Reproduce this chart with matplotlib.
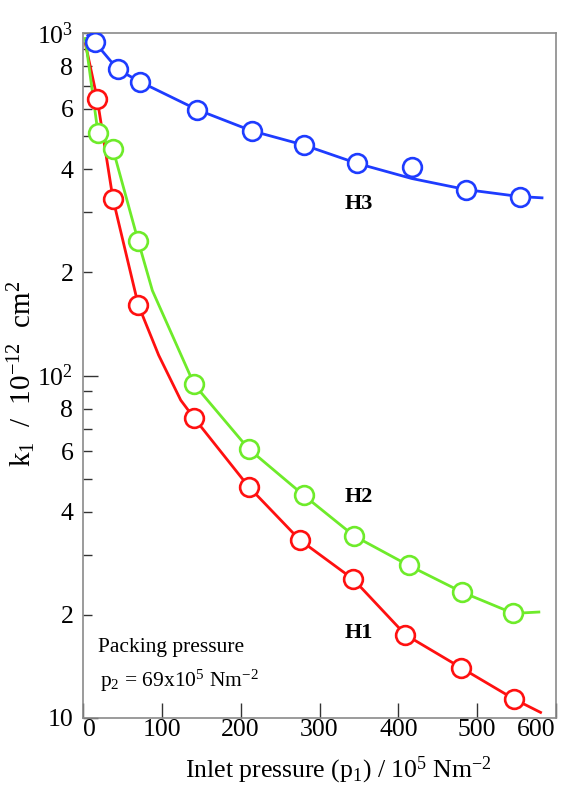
import matplotlib
matplotlib.use("Agg")
import matplotlib.pyplot as plt
from matplotlib.ticker import FixedLocator, FixedFormatter

plt.rcParams["font.family"] = ["Liberation Serif", "DejaVu Serif"]
plt.rcParams["mathtext.fontset"] = "custom"
plt.rcParams["mathtext.rm"] = "Liberation Serif"
plt.rcParams["mathtext.it"] = "Liberation Serif:italic"
plt.rcParams["mathtext.bf"] = "Liberation Serif:bold"
plt.rcParams["mathtext.default"] = "regular"

# Measured permeability vs inlet pressure for three packings
h1_x = [18, 38, 70, 141, 210, 275, 343, 409, 480, 547]
h1_k = [643, 328, 161, 75.1, 47.4, 33.1, 25.4, 17.5, 14.0, 11.35]

h2_x = [19, 38, 70, 141, 210, 280, 344, 413, 481, 546]
h2_k = [510, 458, 247, 94.2, 61.1, 44.7, 34.0, 27.9, 23.3, 20.2]

h3_x = [15, 44, 72, 145, 214, 280, 348, 417, 486, 554]
h3_k = [940, 783, 721, 597, 518, 471, 416, 405, 349, 333]

# Hand-drawn trend curves through the measurements
h1_curve_x = [2.6, 18, 38, 70, 96, 124, 141, 210, 275, 343, 409, 480, 547, 582]
h1_curve_k = [940, 643, 328, 161, 114.6, 84.7, 75.1, 47.4, 33.1, 25.4, 17.5, 14.0, 11.35, 10.34]

h2_curve_x = [2.6, 19, 38, 70, 88, 141, 210, 280, 344, 413, 481, 546, 580]
h2_curve_k = [973, 510, 458, 247, 177, 94.2, 61.1, 44.7, 34.0, 27.9, 23.3, 20.2, 20.4]

h3_curve_x = [5, 15, 44, 72, 145, 214, 280, 348, 417, 486, 554, 584]
h3_curve_k = [990, 940, 783, 721, 597, 518, 471, 416, 376, 349, 333, 330]

x_ticks = [0, 100, 200, 300, 400, 500, 600]
y_major = [10, 100, 1000]
y_major_labels = ["10", "$10^2$", "$10^3$"]
y_minor = [20, 30, 40, 50, 60, 70, 80, 90, 200, 300, 400, 500, 600, 700, 800, 900]
y_minor_labels = ["2", "", "4", "", "6", "", "8", "", "2", "", "4", "", "6", "", "8", ""]

RED = "#FF1010"
GREEN = "#6EEB2A"
BLUE = "#1E3CFF"

fig = plt.figure(figsize=(5.66, 7.93), dpi=100)
ax = fig.add_axes([83 / 566, 75 / 793, 473 / 566, 685 / 793])

for cx, ck, px, pk, col in [
    (h1_curve_x, h1_curve_k, h1_x, h1_k, RED),
    (h2_curve_x, h2_curve_k, h2_x, h2_k, GREEN),
    (h3_curve_x, h3_curve_k, h3_x, h3_k, BLUE),
]:
    ax.plot(cx, ck, color=col, lw=2.0, zorder=2, solid_capstyle="butt")
    ax.plot(px, pk, ls="none", marker="o", ms=13.5, mfc="white",
            mec=col, mew=1.9, zorder=3)

ax.set_yscale("log")
ax.set_xlim(0, 600)
ax.set_ylim(10, 1000)

ax.xaxis.set_major_locator(FixedLocator(x_ticks))
ax.xaxis.set_major_formatter(FixedFormatter([str(v) for v in x_ticks]))
ax.xaxis.set_minor_locator(FixedLocator([]))
ax.yaxis.set_major_locator(FixedLocator(y_major))
ax.yaxis.set_major_formatter(FixedFormatter(y_major_labels))
ax.yaxis.set_minor_locator(FixedLocator(y_minor))
ax.yaxis.set_minor_formatter(FixedFormatter(y_minor_labels))

ax.tick_params(axis="x", which="major", direction="in", length=11, width=1,
               color="#333333", labelsize=18.5, pad=1)
ax.tick_params(axis="y", which="major", direction="in", length=11, width=1,
               color="#333333", labelsize=18.5, pad=7)
ax.tick_params(axis="y", which="minor", direction="in", length=6.5, width=1,
               color="#333333", labelsize=18.5, pad=7)

xlabels = ax.get_xticklabels()
xlabels[0].set_horizontalalignment("left")
xlabels[-1].set_horizontalalignment("right")

for s in ax.spines.values():
    s.set_color("#8a8a8a")
    s.set_linewidth(1.2)

ax.text(350, 307, "H3", ha="center", va="baseline", fontsize=16, fontweight="bold")
ax.text(350, 42.7, "H2", ha="center", va="baseline", fontsize=16, fontweight="bold")
ax.text(350, 17.1, "H1", ha="center", va="baseline", fontsize=16, fontweight="bold")

fig.text(98 / 566, 1 - 652 / 793, "Packing pressure", ha="left", va="baseline", fontsize=15.5)
fig.text(100 / 566, 1 - 687 / 793, "$p_2$ = 69x10$^5$ Nm$^{-2}$", ha="left",
         va="baseline", fontsize=15.5)

fig.text(338 / 566, 1 - 777 / 793, "Inlet pressure ($p_1$) / 10$^5$ Nm$^{-2}$",
         ha="center", va="baseline", fontsize=18.5)
fig.text(22 / 566, 1 - 374 / 793, "$k_1$  /  10$^{-12}$  cm$^2$", rotation=90,
         ha="center", va="center", fontsize=21)

fig.savefig("out.png", dpi=100)
